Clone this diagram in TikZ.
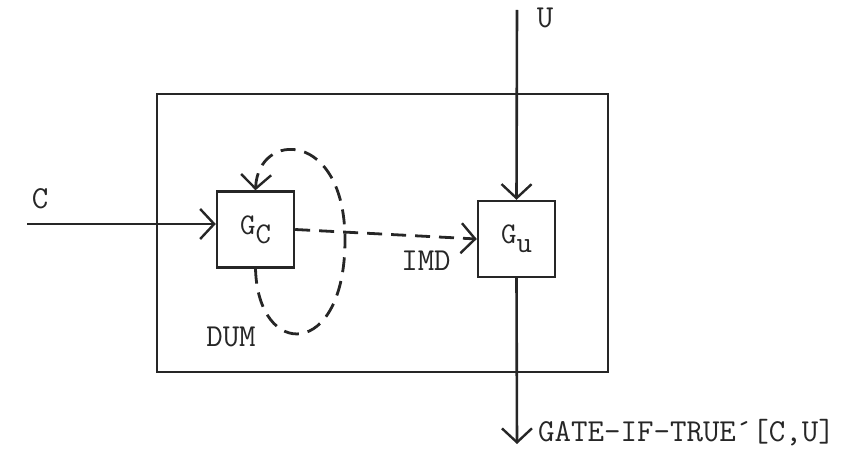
\documentclass[tikz,border=0pt]{standalone}
\usepackage{fontspec}
\usetikzlibrary{arrows.meta}

\begin{document}
\begin{tikzpicture}[x=1pt,y=-1pt,
  gate/.style={draw,line width=2.4pt,minimum width=77pt,minimum height=76pt,inner sep=0pt,font=\ttfamily\fontsize{30}{33}\selectfont},
  wire/.style={line width=2.6pt},
  dum/.style={line width=2.8pt,dash pattern=on 15pt off 9pt},
  tip/.style={-{Straight Barb[length=14pt,width=30pt,line width=2.4pt]}},
  lbl/.style={font=\ttfamily\fontsize{32}{35}\selectfont,inner sep=0pt},
  every path/.style={black!85}
]
  \useasboundingbox (0,0) rectangle (841,465);

  % Enclosing box
  \node[draw,line width=2.6pt,minimum width=451pt,minimum height=278pt] (frame) at (382.5,233) {};

  % Gates
  \node[gate] (gc) at (255.5,229.5) {G\raisebox{-9pt}{C}};
  \node[gate] (gu) at (516.5,239) {G\raisebox{-9pt}{u}};

  % Inputs and output
  \coordinate (cin) at (27,224);
  \coordinate (uin) at (517,10);
  \coordinate (out) at (517,444);
  \draw[wire,tip] (cin) -- (cin -| gc.west);
  \draw[wire,tip] (uin) -- (gu.north);
  \draw[wire,tip] (gu.south) -- (out);

  % Dashed connections
  \draw[dum,tip] (gc.east) -- (gu.west);
  \draw[dum,tip] (gc.south) .. controls (258,360) and (345,360) .. (345,240)
                            .. controls (345,130) and (258,130) .. (gc.north);

  % Labels
  \node[lbl] (clbl) at (40,199) {C};
  \node[lbl] (ulbl) at (545,18) {U};
  \node[lbl] (imd) at (426,261) {IMD};
  \node[lbl] (dumlbl) at (231,337) {DUM};
  \node[lbl,anchor=west] (res) at (538,433) {GATE-IF-TRUE\symbol{"B4}[C,U]};
\end{tikzpicture}
\end{document}
